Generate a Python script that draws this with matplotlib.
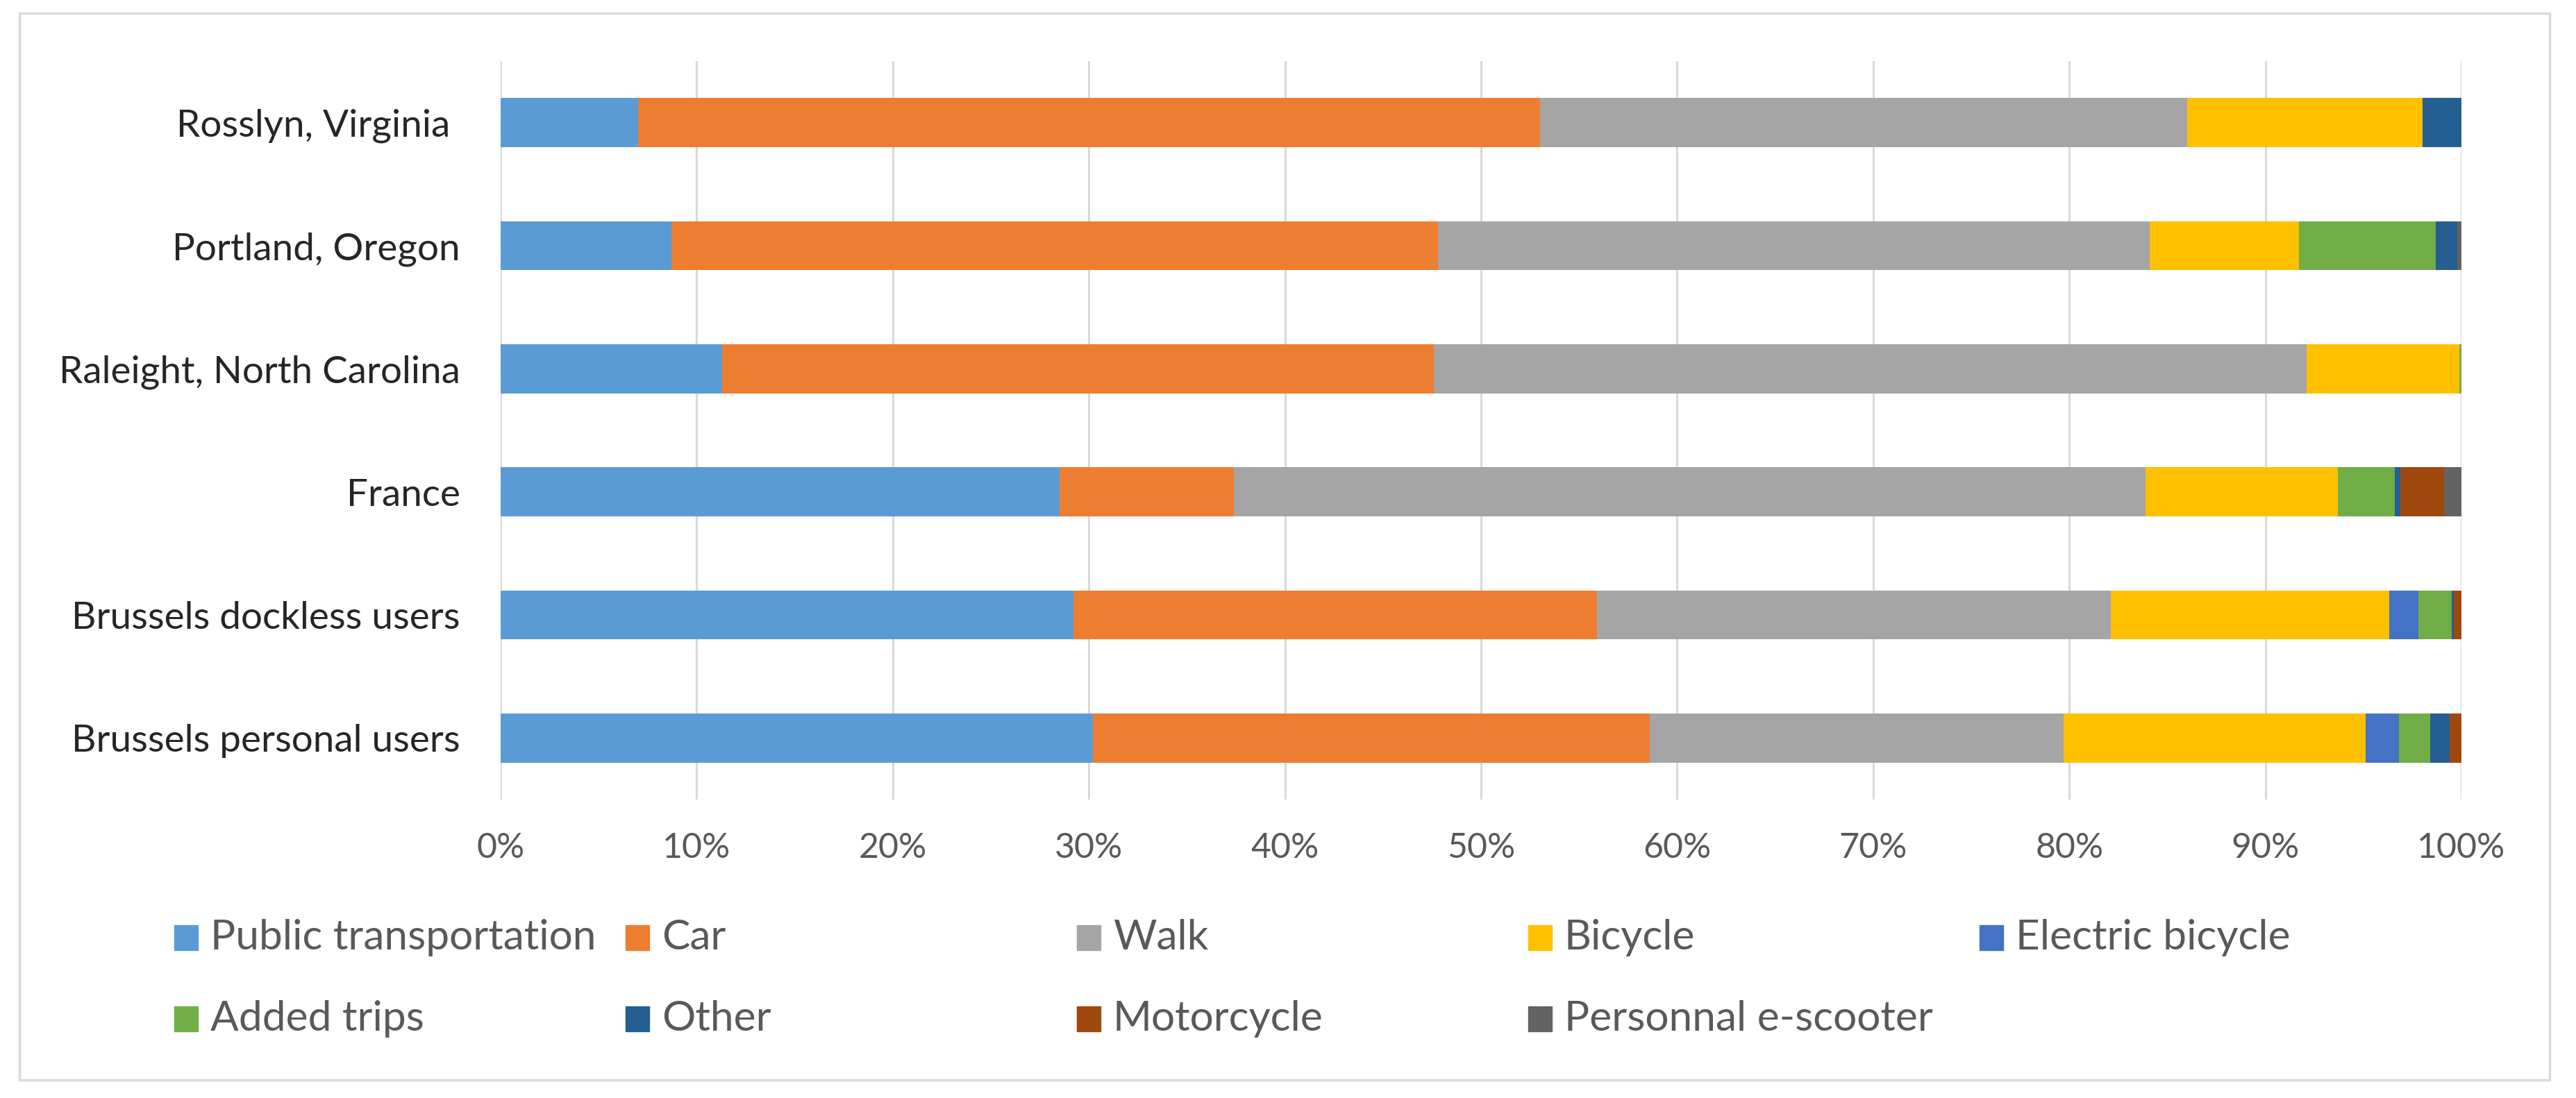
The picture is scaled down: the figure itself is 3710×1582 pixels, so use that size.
import matplotlib
matplotlib.use("Agg")
import matplotlib.pyplot as plt
from matplotlib.patches import Rectangle

plt.rcParams['font.family'] = ['Lato', 'DejaVu Sans']

# categories bottom -> top, as drawn
places = ["Brussels personal users", "Brussels dockless users", "France",
          "Raleight, North Carolina", "Portland, Oregon", "Rosslyn, Virginia "]

modes = ["Public transportation", "Car", "Walk", "Bicycle", "Electric bicycle",
         "Added trips", "Other", "Motorcycle", "Personnal e-scooter"]

# share of trips replaced (%), one list per mode, same order as places
public_transport = [30.2, 29.2, 28.5, 11.3, 8.7, 7.0]
car = [28.4, 26.7, 8.9, 36.3, 39.1, 46.0]
walk = [21.1, 26.2, 46.5, 44.5, 36.3, 33.0]
bicycle = [15.4, 14.2, 9.8, 7.8, 7.6, 12.0]
electric_bicycle = [1.7, 1.5, 0.0, 0.0, 0.0, 0.0]
added_trips = [1.6, 1.7, 2.9, 0.1, 7.0, 0.0]
other = [1.0, 0.1, 0.3, 0.0, 1.1, 2.0]
motorcycle = [0.6, 0.4, 2.2, 0.0, 0.0, 0.0]
e_scooter = [0.0, 0.0, 0.9, 0.0, 0.2, 0.0]

series = [public_transport, car, walk, bicycle, electric_bicycle,
          added_trips, other, motorcycle, e_scooter]
colors = ["#5B9BD5", "#ED7D31", "#A5A5A5", "#FFC000", "#4472C4",
          "#70AD47", "#255E91", "#9E480E", "#636363"]

W, H = 3710, 1582
fig = plt.figure(figsize=(W / 100, H / 100), dpi=100)
ax = fig.add_axes([721 / W, 1 - 1152 / H, (3545 - 721) / W, (1152 - 88) / H])

ypos = list(range(len(places)))
left = [0.0] * len(places)
for vals, col, name in zip(series, colors, modes):
    ax.barh(ypos, vals, left=left, height=0.4, color=col, label=name, zorder=3)
    left = [a + b for a, b in zip(left, vals)]

ax.set_xlim(0, 100)
ax.set_ylim(-0.5, len(places) - 0.5)
ax.set_xticks(range(0, 101, 10))
ax.set_xticklabels([f"{v}%" for v in range(0, 101, 10)])
ax.set_yticks(ypos)
ax.set_yticklabels(places)
ax.grid(axis='x', color='#D9D9D9', linewidth=2.2, zorder=0)
ax.tick_params(axis='x', length=0, pad=34, labelsize=36, labelcolor='#595959')
ax.tick_params(axis='y', length=0, pad=42, labelsize=39.5, labelcolor='#262626')
for s in ax.spines.values():
    s.set_visible(False)

# legend laid out like the spreadsheet one: 5 equal columns, 2 rows
for i, (name, col) in enumerate(zip(modes, colors)):
    r, c = divmod(i, 5)
    x0 = 251 + c * 650
    yc = 1351 + r * 117
    fig.add_artist(Rectangle((x0 / W, 1 - (yc + 18) / H), 34 / W, 36 / H,
                             transform=fig.transFigure, color=col))
    fig.text((x0 + 52) / W, 1 - yc / H, name, fontsize=43.5, color='#595959',
             va='center', ha='left')

# chart frame
fig.add_artist(Rectangle((28 / W, 1 - 1556 / H), (3672 - 28) / W, (1556 - 19) / H,
                         transform=fig.transFigure, fill=False,
                         edgecolor='#D9D9D9', linewidth=2.5))

fig.savefig("out.png", dpi=100, facecolor='white')
